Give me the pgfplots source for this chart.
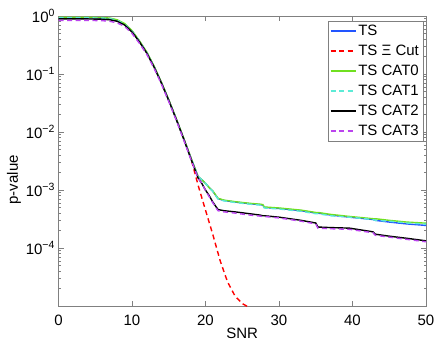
\documentclass[border=0pt]{standalone}
\usepackage{fontspec}
\setmainfont{Liberation Sans}
\usepackage{pgfplots}
\usepackage{pgfplotstable}
\pgfplotsset{compat=1.18}

\definecolor{tsblue}{HTML}{2255FF}
\definecolor{catgreen}{HTML}{70E020}
\definecolor{catcyan}{HTML}{5CEBD6}
\definecolor{catmag}{HTML}{BB44EE}
\definecolor{boxgray}{HTML}{808080}

% x  TS  CAT0  CAT1  CAT2  CAT3
\pgfplotstableread{
x     ts        cat0      cat1      cat2      cat3
0     0.93      0.95      0.93      0.89      0.84
2     0.93      0.95      0.93      0.89      0.84
4     0.93      0.95      0.93      0.89      0.84
6     0.92      0.94      0.92      0.88      0.83
7     0.90      0.92      0.90      0.86      0.81
8     0.84      0.86      0.84      0.81      0.76
9     0.72      0.74      0.72      0.70      0.66
10    0.55      0.56      0.55      0.53      0.50
11    0.37      0.375     0.37      0.36      0.34
12    0.235     0.24      0.235     0.23      0.22
13    0.135     0.137     0.135     0.132     0.126
14    0.071     0.072     0.071     0.070     0.067
15    0.0355    0.036     0.0355    0.035     0.0335
16    0.017     0.0172    0.017     0.0168    0.0162
17    0.0079    0.008     0.0079    0.0078    0.0075
18    0.0036    0.00365   0.0036    0.0035    0.0034
19    0.0017    0.0017    0.0017    0.0016    0.0016
19.5  0.0015    0.0015    0.0015    0.0013    0.0013
20    0.0013    0.0013    0.0013    0.0010    0.00098
20.5  0.0011    0.0011    0.0011    0.00080   0.00077
21    0.00095   0.00096   0.00094   0.00062   0.00060
21.7  0.00071   0.00072   0.00070   0.00046   0.00044
22.5  0.00066   0.00067   0.00065   0.00044   0.00042
24    0.00062   0.00063   0.00061   0.00042   0.00040
26    0.00058   0.00059   0.00057   0.00039   0.00037
27.4  0.00056   0.00057   0.00055   0.00037   0.000355
27.8  0.00055   0.00056   0.00054   0.00036   0.00035
28    0.00050   0.00051   0.00049   0.00036   0.00035
30    0.00048   0.00049   0.00047   0.00034   0.00033
33    0.00044   0.00045   0.00043   0.00030   0.00029
35    0.00040   0.00041   0.00039   0.00027   0.00026
35.3  0.00040   0.00041   0.00039   0.00023   0.00022
37    0.00037   0.00038   0.00036   0.000225  0.000215
39.6  0.00034   0.00035   0.00034   0.00022   0.00021
42.8  0.00031   0.00032   0.00031   0.00019   0.000183
43.1  0.00030   0.00032   0.00030   0.000173  0.000166
45    0.00028   0.00030   0.00029   0.00016   0.000154
47.4  0.00026   0.00028   0.00027   0.000147  0.000141
50    0.000245  0.000268  0.000258  0.000133  0.000128
}\pvals

\begin{document}
\begin{tikzpicture}
\useasboundingbox (-58.5pt,-40pt) rectangle (379.5pt,306pt);
\begin{axis}[
    at={(0,0)}, anchor=south west,
    scale only axis,
    width=367.5pt, height=290pt,
    ymode=log,
    xmin=0, xmax=50,
    ymin=1e-5, ymax=1,
    xtick={0,10,20,30,40,50},
    /pgf/number format/assume math mode=true,
    ytick={1e-4,1e-3,1e-2,1e-1,1},
    yticklabels={10\textsuperscript{−4},10\textsuperscript{−3},10\textsuperscript{−2},10\textsuperscript{−1},10\textsuperscript{0}},
    minor ytick={2e-5,3e-5,4e-5,5e-5,6e-5,7e-5,8e-5,9e-5,
        2e-4,3e-4,4e-4,5e-4,6e-4,7e-4,8e-4,9e-4,
        2e-3,3e-3,4e-3,5e-3,6e-3,7e-3,8e-3,9e-3,
        2e-2,3e-2,4e-2,5e-2,6e-2,7e-2,8e-2,9e-2,
        0.2,0.3,0.4,0.5,0.6,0.7,0.8,0.9},
    font=\fontsize{15}{18}\selectfont,
    axis line style={boxgray},
    every tick/.style={boxgray},
    major tick length=5pt,
    minor tick length=2.5pt,
    xticklabel style={yshift=-5pt},
    xlabel={SNR},
    ylabel={p-value},
    xlabel style={at={(axis description cs:0.5,-0.093)}, anchor=center},
    ylabel style={at={(axis description cs:-0.121,0.435)}, anchor=center},
    legend style={at={(rel axis cs:0.992,0.983)}, anchor=north east,
        draw=boxgray, fill=white, font=\fontsize{15}{18}\selectfont,
        row sep=4pt, inner sep=2pt},
    legend cell align=left,
    legend image code/.code={\draw[#1] (0pt,0pt) -- (25pt,0pt);},
    every axis plot/.append style={line width=1.4pt},
]
\addplot[tsblue] table[x=x, y=ts] {\pvals};
\addlegendentry{TS}
\addplot[red, dash pattern=on 5pt off 3.5pt] coordinates {
    (0,0.93) (2,0.93) (4,0.93) (6,0.92) (7,0.90) (8,0.84) (9,0.72) (10,0.55)
    (11,0.37) (12,0.235) (13,0.135) (14,0.071) (15,0.0355) (16,0.017)
    (17,0.0079) (18,0.0036) (19,0.0012) (20,0.00045) (21,0.00017)
    (22,0.00006) (23,0.000026) (24,0.000015) (25,0.000011) (25.6,0.00001)
    (26,0.0000092)
};
\addlegendentry{TS Ξ Cut}
\addplot[catgreen] table[x=x, y=cat0] {\pvals};
\addlegendentry{TS CAT0}
\addplot[catcyan, dash pattern=on 5pt off 3.5pt] table[x=x, y=cat1] {\pvals};
\addlegendentry{TS CAT1}
\addplot[black] table[x=x, y=cat2] {\pvals};
\addlegendentry{TS CAT2}
\addplot[catmag, dash pattern=on 5pt off 3.5pt] table[x=x, y=cat3] {\pvals};
\addlegendentry{TS CAT3}
\end{axis}
\end{tikzpicture}
\end{document}
